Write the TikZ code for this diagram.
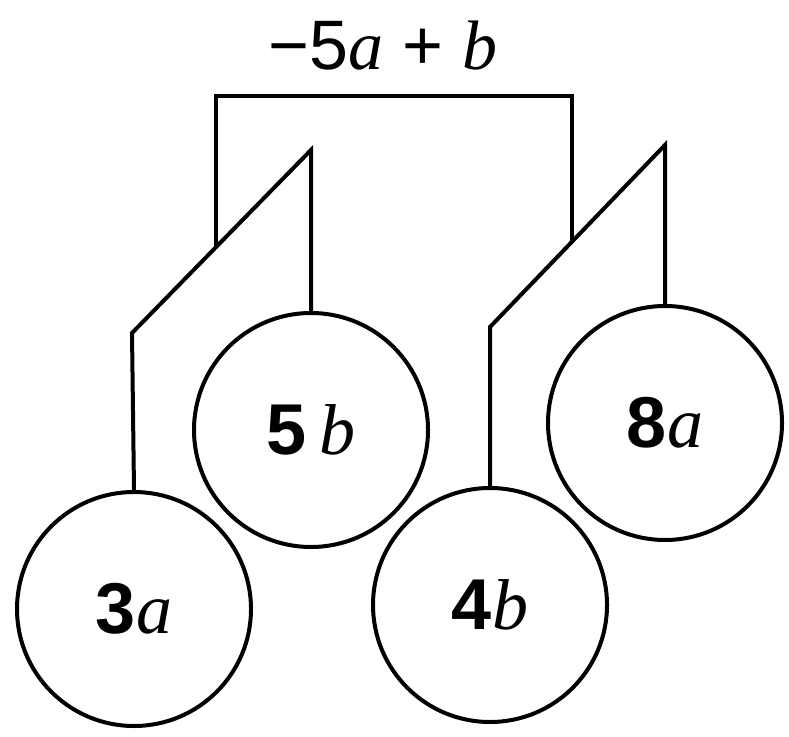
\documentclass[tikz,border=0pt]{standalone}
\usepackage{fontspec}
\setmainfont{Liberation Sans}
\newfontfamily\varfont{Liberation Serif}
\newcommand{\letvar}[1]{{\varfont\itshape #1}}
\usepackage{tikz}
\usetikzlibrary{calc}

\begin{document}
\begin{tikzpicture}[
  x=0.25pt, y=-0.25pt,
  ball/.style={draw, circle, line width=1pt, minimum size=58.5pt,
               inner sep=0pt, font=\fontsize{18}{20}\selectfont},
  wire/.style={line width=1pt, line join=miter}
]
\useasboundingbox (0,0) rectangle (789,736);

% the four balls
\node[ball] (b3a) at (134,609) {\textbf{3}\letvar{a}};
\node[ball] (b5b) at (311,430) {\textbf{5}\,\letvar{b}};
\node[ball] (b4b) at (490,605) {\textbf{4}\letvar{b}};
\node[ball] (b8a) at (665,423) {\textbf{8}\letvar{a}};

% label on top
\node[font=\fontsize{17.5}{20}\selectfont] (sum) at (383,46)
  {−5\letvar{a} + \letvar{b}};

% bend points
\coordinate (kneeL) at (132,333);
\coordinate (peakL) at (311,150);
\coordinate (kneeR) at (490,327);
\coordinate (peakR) at (665,145);
\coordinate (jL) at ($(kneeL)!0.47!(peakL)$);
\coordinate (jR) at ($(kneeR)!0.47!(peakR)$);
\coordinate (barL) at (jL |- 0,96);

\draw[wire] (b3a.north) -- (kneeL) -- (peakL) -- (b5b.north);
\draw[wire] (b4b.north) -- (kneeR) -- (peakR) -- (b8a.north);
\draw[wire] (jL) -- (barL) -| (jR);
\end{tikzpicture}
\end{document}
